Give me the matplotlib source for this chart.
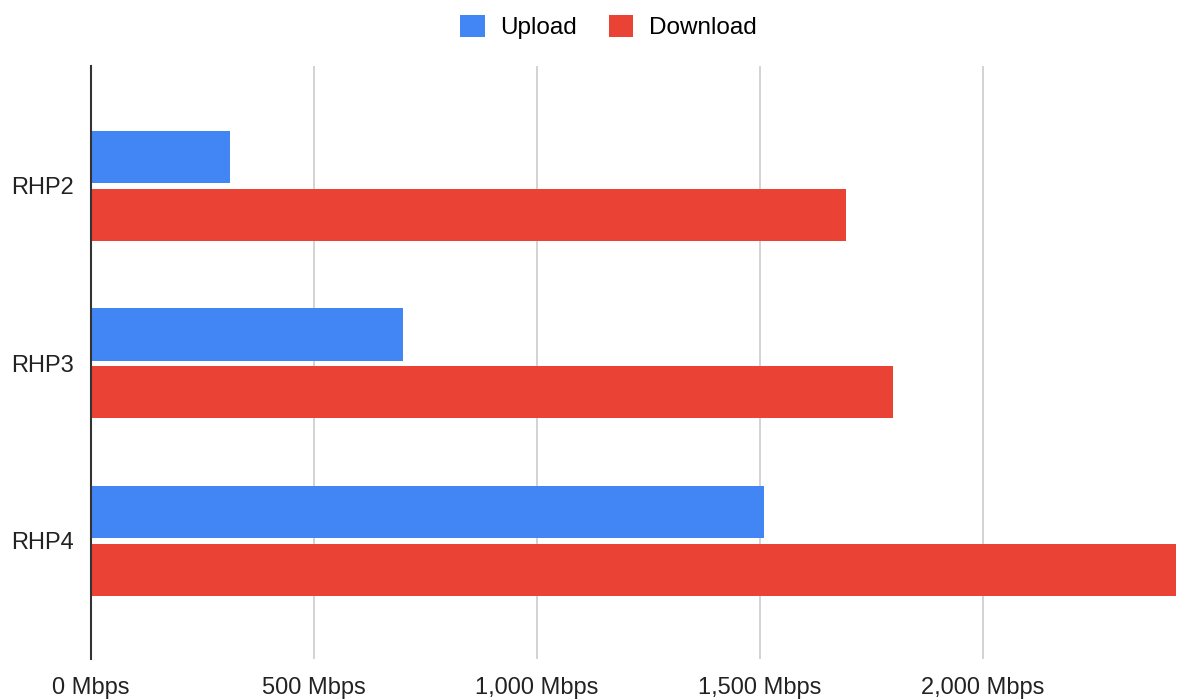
import matplotlib

matplotlib.use("Agg")

import matplotlib.pyplot as plt  # noqa: E402
import numpy as np  # noqa: E402
from matplotlib.ticker import FuncFormatter  # noqa: E402

categories = ["RHP2", "RHP3", "RHP4"]
upload = [312, 700, 1510]
download = [1694, 1800, 2434]
x_ticks = [0, 500, 1000, 1500, 2000]

BLUE = "#4285f4"
RED = "#ea4335"

plt.rcParams["font.family"] = ["Liberation Sans", "DejaVu Sans"]

fig = plt.figure(figsize=(12, 6.99), dpi=100)
ax = fig.add_axes([91 / 1200, 1 - 659 / 699, (1176 - 91) / 1200, (659 - 66) / 699])

y = np.arange(len(categories))
h = 0.295
ax.barh(y - h / 2 - 0.015, upload, height=h, color=BLUE, label="Upload", zorder=3)
ax.barh(y + h / 2 + 0.015, download, height=h, color=RED, label="Download", zorder=3)

ax.set_ylim(2.665, -0.675)
ax.set_xlim(0, max(download))
ax.set_yticks(y)
ax.set_yticklabels(categories)
ax.set_xticks(x_ticks)
ax.xaxis.set_major_formatter(FuncFormatter(lambda v, _: f"{v:,.0f} Mbps"))

ax.grid(axis="x", color="#cccccc", linewidth=1.2, zorder=0)
for side in ["top", "right", "bottom"]:
    ax.spines[side].set_visible(False)
ax.spines["left"].set_color("#333333")
ax.spines["left"].set_linewidth(1.5)
ax.spines["left"].set_zorder(4)
ax.tick_params(length=0, labelsize=17, colors="#222222")
ax.tick_params(axis="x", pad=13)
ax.tick_params(axis="y", pad=12)

fig.legend(
    loc="upper center",
    bbox_to_anchor=(0.507, 1.01),
    ncol=2,
    frameon=False,
    fontsize=17.5,
    handlelength=1.0,
    handleheight=1.0,
    columnspacing=1.3,
    handletextpad=0.65,
)

fig.savefig("out.png", dpi=100)
